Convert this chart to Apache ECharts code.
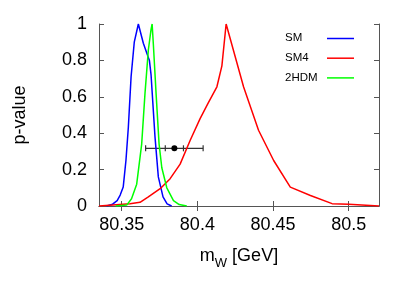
<!DOCTYPE html>
<html><head><meta charset="utf-8">
<script src="https://cdn.jsdelivr.net/npm/echarts@6/dist/echarts.min.js"></script>
<style>html,body{margin:0;padding:0;background:#fff}#c{width:415px;height:291px}</style>
</head><body><div id="c"></div>
<script>
const xTicks = [80.35, 80.4, 80.45, 80.5];
const yTicks = [0, 0.2, 0.4, 0.6, 0.8, 1];
const seriesNames = ['SM', 'SM4', '2HDM'];
const seriesColors = ['#0000ff', '#ff0000', '#00ff00'];
const smX = [80.340, 80.344, 80.347, 80.349, 80.351, 80.3528, 80.3544, 80.3562, 80.3583, 80.361, 80.3643, 80.3683, 80.3694, 80.372, 80.3742, 80.3773, 80.380, 80.383];
const smY = [0, 0.01, 0.03, 0.06, 0.104, 0.25, 0.434, 0.71, 0.90, 1.0, 0.894, 0.80, 0.72, 0.38, 0.16, 0.05, 0.012, 0];
const sm4X = [80.335, 80.3555, 80.3621, 80.3676, 80.3754, 80.382, 80.3886, 80.3952, 80.4018, 80.4071, 80.4129, 80.4162, 80.419, 80.4305, 80.4404, 80.4504, 80.4614, 80.4747, 80.489, 80.5, 80.52];
const sm4Y = [0, 0.013, 0.02, 0.05, 0.095, 0.15, 0.23, 0.36, 0.48, 0.565, 0.655, 0.77, 1.0, 0.655, 0.416, 0.25, 0.104, 0.058, 0.013, 0.01, 0];
const hdmX = [80.346, 80.3533, 80.3565, 80.3599, 80.3632, 80.3654, 80.3676, 80.3694, 80.3701, 80.3709, 80.3727, 80.3747, 80.3765, 80.3798, 80.3842, 80.388, 80.393];
const hdmY = [0, 0.005, 0.04, 0.12, 0.34, 0.62, 0.857, 0.97, 1.0, 0.89, 0.62, 0.34, 0.21, 0.10, 0.03, 0.008, 0];
// measurement: centre, y, outer half-width, inner half-width
const measX = 80.3848, measY = 0.317, measErrOuter = 0.019, measErrInner = 0.006;

const zip = (a, b) => a.map((v, i) => [v, b[i]]);
const axisGray = '#555';
const font = 'Liberation Sans, Arial, sans-serif';
const chart = echarts.init(document.getElementById('c'), null, {renderer: 'canvas'});
const fmt = v => String(+v.toFixed(3));

const legendGraphics = [];
seriesNames.forEach((n, i) => {
  const y = 38.5 + i * 19.7;
  legendGraphics.push({type: 'text', left: 285, top: y - 6.5, style: {text: n, fontFamily: font, fontSize: 11.5, fill: '#000'}});
  legendGraphics.push({type: 'line', shape: {x1: 327, y1: y, x2: 354, y2: y}, style: {stroke: seriesColors[i], lineWidth: 1.5}});
});

chart.setOption({
  animation: false,
  grid: {left: 99, right: 36, top: 24, bottom: 85},
  graphic: legendGraphics,
  xAxis: [{
    type: 'value', min: 80.335, max: 80.52,
    name: 'm{s|W} [GeV]', nameLocation: 'middle', nameGap: 37,
    nameTextStyle: {fontFamily: font, fontSize: 18, color: '#000', rich: {s: {fontSize: 13, verticalAlign: 'bottom', padding: [14, 0, 0, 0], fontFamily: font}}},
    axisLine: {show: true, lineStyle: {color: axisGray}},
    axisTick: {inside: true, length: 5, lineStyle: {color: axisGray}, customValues: xTicks},
    axisLabel: {fontFamily: font, fontSize: 18, color: '#000', margin: 10, customValues: xTicks, formatter: fmt},
    splitLine: {show: false}
  }, {
    type: 'value', min: 80.335, max: 80.52, position: 'top',
    axisLine: {show: true, lineStyle: {color: axisGray}},
    axisTick: {inside: true, length: 5, lineStyle: {color: axisGray}, customValues: xTicks},
    axisLabel: {show: false}, splitLine: {show: false}
  }],
  yAxis: [{
    type: 'value', min: 0, max: 1, interval: 0.2,
    name: 'p-value', nameLocation: 'middle', nameGap: 70,
    nameTextStyle: {fontFamily: font, fontSize: 18, color: '#000'},
    axisLine: {show: true, lineStyle: {color: axisGray}},
    axisTick: {inside: true, length: 5, lineStyle: {color: axisGray}},
    axisLabel: {fontFamily: font, fontSize: 18, color: '#000', margin: 12, formatter: v => String(+v.toFixed(1))},
    splitLine: {show: false}
  }, {
    type: 'value', min: 0, max: 1, interval: 0.2, position: 'right',
    axisLine: {show: true, lineStyle: {color: axisGray}},
    axisTick: {inside: true, length: 5, lineStyle: {color: axisGray}},
    axisLabel: {show: false}, splitLine: {show: false}
  }],
  series: [
    {name: seriesNames[0], type: 'line', data: zip(smX, smY), showSymbol: false, symbol: 'none', lineStyle: {color: seriesColors[0], width: 1.5}},
    {name: seriesNames[1], type: 'line', data: zip(sm4X, sm4Y), showSymbol: false, symbol: 'none', lineStyle: {color: seriesColors[1], width: 1.5}},
    {name: seriesNames[2], type: 'line', data: zip(hdmX, hdmY), showSymbol: false, symbol: 'none', lineStyle: {color: seriesColors[2], width: 1.5}},
    {
      type: 'custom', data: [[measX, measY, measErrOuter, measErrInner]],
      renderItem: (params, api) => {
        const c = api.coord([api.value(0), api.value(1)]);
        const l = api.coord([api.value(0) - api.value(2), api.value(1)]);
        const r = api.coord([api.value(0) + api.value(2), api.value(1)]);
        const li = api.coord([api.value(0) - api.value(3), api.value(1)]);
        const ri = api.coord([api.value(0) + api.value(3), api.value(1)]);
        const st = {stroke: '#333', lineWidth: 1.2};
        const v = (x, h) => ({type: 'line', shape: {x1: x, y1: c[1] - h, x2: x, y2: c[1] + h}, style: st});
        return {type: 'group', children: [
          {type: 'line', shape: {x1: l[0], y1: c[1], x2: r[0], y2: c[1]}, style: st},
          v(l[0], 3), v(r[0], 3), v(li[0], 3), v(ri[0], 3),
          {type: 'circle', shape: {cx: c[0], cy: c[1], r: 3}, style: {fill: '#000'}}
        ]};
      }
    }
  ]
});
</script></body></html>
